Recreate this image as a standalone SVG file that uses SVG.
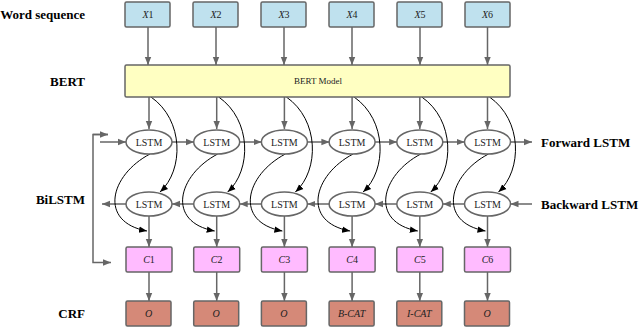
<svg xmlns="http://www.w3.org/2000/svg" width="640" height="328" viewBox="0 0 640 328" font-family="'Liberation Serif', 'Times New Roman', 'DejaVu Serif', serif">
<defs>
<marker id="ga" markerUnits="userSpaceOnUse" markerWidth="8" markerHeight="8" refX="8" refY="4" orient="auto"><path d="M0,0.8 L8,4 L0,7.2 z" fill="#666"/></marker>
<marker id="ba" markerUnits="userSpaceOnUse" markerWidth="8" markerHeight="8" refX="8" refY="4" orient="auto"><path d="M0,0.8 L8,4 L0,7.2 z" fill="#000"/></marker>
<style>
text{font-family:'Liberation Serif','Times New Roman','DejaVu Serif',serif}
.lbl{font-weight:bold;font-size:13px;fill:#000}
.t{font-size:10px;fill:#222;text-anchor:middle}
.it{font-style:italic}
.w{fill:#BFE1EE;stroke:#666;stroke-width:1.5}
.b{fill:#FFFFC2;stroke:#666;stroke-width:1.5}
.c{fill:#FFBBFF;stroke:#666;stroke-width:1.5}
.r{fill:#D58978;stroke:#666;stroke-width:1.5}
.e{fill:#fff;stroke:#666;stroke-width:1.5}
.g{fill:none;stroke:#666;stroke-width:1.5}
.k{fill:none;stroke:#000;stroke-width:1}
</style>
</defs>
<rect width="640" height="328" fill="#fff"/>
<g id="labels">
<text class="lbl" x="85" y="19" text-anchor="end">Word sequence</text>
<text class="lbl" x="85" y="86" text-anchor="end">BERT</text>
<text class="lbl" x="85" y="204" text-anchor="end">BiLSTM</text>
<text class="lbl" x="85" y="318" text-anchor="end">CRF</text>
<text class="lbl" x="541" y="147">Forward LSTM</text>
<text class="lbl" x="541" y="209">Backward LSTM</text>
</g>
<g id="connectors">
<path class="g" marker-end="url(#ga)" d="M148,27 V65"/>
<path class="g" marker-end="url(#ga)" d="M216,27 V65"/>
<path class="g" marker-end="url(#ga)" d="M284,27 V65"/>
<path class="g" marker-end="url(#ga)" d="M352,27 V65"/>
<path class="g" marker-end="url(#ga)" d="M420,27 V65"/>
<path class="g" marker-end="url(#ga)" d="M487.5,27 V65"/>
<path class="g" marker-end="url(#ga)" d="M149,97 V129"/>
<path class="g" marker-end="url(#ga)" d="M216.7,97 V129"/>
<path class="g" marker-end="url(#ga)" d="M284.4,97 V129"/>
<path class="g" marker-end="url(#ga)" d="M352.1,97 V129"/>
<path class="g" marker-end="url(#ga)" d="M419.8,97 V129"/>
<path class="g" marker-end="url(#ga)" d="M487.5,97 V129"/>
<path class="g" marker-end="url(#ga)" d="M100,142 H126"/>
<path class="g" marker-end="url(#ga)" d="M172,142 H194"/>
<path class="g" marker-end="url(#ga)" d="M239.7,142 H261.7"/>
<path class="g" marker-end="url(#ga)" d="M307.4,142 H329.4"/>
<path class="g" marker-end="url(#ga)" d="M375.1,142 H397.1"/>
<path class="g" marker-end="url(#ga)" d="M442.8,142 H464.8"/>
<path class="g" marker-end="url(#ga)" d="M510.5,142 H532"/>
<path class="g" marker-end="url(#ga)" d="M532,204 H510.5"/>
<path class="g" marker-end="url(#ga)" d="M464.5,204 H442.8"/>
<path class="g" marker-end="url(#ga)" d="M396.8,204 H375.1"/>
<path class="g" marker-end="url(#ga)" d="M329.1,204 H307.4"/>
<path class="g" marker-end="url(#ga)" d="M261.4,204 H239.7"/>
<path class="g" marker-end="url(#ga)" d="M193.7,204 H172"/>
<path class="g" marker-end="url(#ga)" d="M126,204 H102"/>
<path class="g" marker-end="url(#ga)" d="M108,134.5 H93 V262.5 H111"/>
<path class="g" marker-end="url(#ga)" d="M93,134.5 H108"/>
<path class="g" marker-end="url(#ga)" d="M149,216 V247"/>
<path class="g" marker-end="url(#ga)" d="M216.7,216 V247"/>
<path class="g" marker-end="url(#ga)" d="M284.4,216 V247"/>
<path class="g" marker-end="url(#ga)" d="M352.1,216 V247"/>
<path class="g" marker-end="url(#ga)" d="M419.8,216 V247"/>
<path class="g" marker-end="url(#ga)" d="M487.5,216 V247"/>
<path class="g" marker-end="url(#ga)" d="M149,272 V301"/>
<path class="g" marker-end="url(#ga)" d="M216.7,272 V301"/>
<path class="g" marker-end="url(#ga)" d="M284.4,272 V301"/>
<path class="g" marker-end="url(#ga)" d="M352.1,272 V301"/>
<path class="g" marker-end="url(#ga)" d="M419.8,272 V301"/>
<path class="g" marker-end="url(#ga)" d="M487.5,272 V301"/>
<path class="k" marker-end="url(#ba)" d="M151,97 C184,120 184,170 160,192"/>
<path class="k" marker-end="url(#ba)" d="M218.7,97 C251.7,120 251.7,170 227.7,192"/>
<path class="k" marker-end="url(#ba)" d="M286.4,97 C319.4,120 319.4,170 295.4,192"/>
<path class="k" marker-end="url(#ba)" d="M354.1,97 C387.1,120 387.1,170 363.1,192"/>
<path class="k" marker-end="url(#ba)" d="M421.8,97 C454.8,120 454.8,170 430.8,192"/>
<path class="k" marker-end="url(#ba)" d="M489.5,97 C522.5,120 522.5,170 498.5,192"/>
<path class="k" marker-end="url(#ba)" d="M150,154 C110,175 98,222 147,231"/>
<path class="k" marker-end="url(#ba)" d="M217.7,154 C177.7,175 165.7,222 214.7,231"/>
<path class="k" marker-end="url(#ba)" d="M285.4,154 C245.4,175 233.4,222 282.4,231"/>
<path class="k" marker-end="url(#ba)" d="M353.1,154 C313.1,175 301.1,222 350.1,231"/>
<path class="k" marker-end="url(#ba)" d="M420.8,154 C380.8,175 368.8,222 417.8,231"/>
<path class="k" marker-end="url(#ba)" d="M488.5,154 C448.5,175 436.5,222 485.5,231"/>
</g>
<g id="words">
<g id="x1"><rect class="w" x="125" y="2" width="45" height="25" rx="1.5"/><text class="t" x="148" y="18"><tspan class="it">X</tspan>1</text></g>
<g id="x2"><rect class="w" x="193" y="2" width="45" height="25" rx="1.5"/><text class="t" x="216" y="18"><tspan class="it">X</tspan>2</text></g>
<g id="x3"><rect class="w" x="261" y="2" width="45" height="25" rx="1.5"/><text class="t" x="284" y="18"><tspan class="it">X</tspan>3</text></g>
<g id="x4"><rect class="w" x="329" y="2" width="45" height="25" rx="1.5"/><text class="t" x="352" y="18"><tspan class="it">X</tspan>4</text></g>
<g id="x5"><rect class="w" x="397" y="2" width="45" height="25" rx="1.5"/><text class="t" x="420" y="18"><tspan class="it">X</tspan>5</text></g>
<g id="x6"><rect class="w" x="465" y="2" width="45" height="25" rx="1.5"/><text class="t" x="487.5" y="18"><tspan class="it">X</tspan>6</text></g>
</g>
<g id="bert"><rect class="b" x="125" y="65" width="385" height="32" rx="1.5"/><text class="t" x="318" y="84" style="font-size:9px">BERT Model</text></g>
<g id="forward">
<g id="f1"><ellipse class="e" cx="149" cy="142" rx="23" ry="12"/><text class="t" x="149" y="145.5">LSTM</text></g>
<g id="f2"><ellipse class="e" cx="216.7" cy="142" rx="23" ry="12"/><text class="t" x="216.7" y="145.5">LSTM</text></g>
<g id="f3"><ellipse class="e" cx="284.4" cy="142" rx="23" ry="12"/><text class="t" x="284.4" y="145.5">LSTM</text></g>
<g id="f4"><ellipse class="e" cx="352.1" cy="142" rx="23" ry="12"/><text class="t" x="352.1" y="145.5">LSTM</text></g>
<g id="f5"><ellipse class="e" cx="419.8" cy="142" rx="23" ry="12"/><text class="t" x="419.8" y="145.5">LSTM</text></g>
<g id="f6"><ellipse class="e" cx="487.5" cy="142" rx="23" ry="12"/><text class="t" x="487.5" y="145.5">LSTM</text></g>
</g>
<g id="backward">
<g id="b1"><ellipse class="e" cx="149" cy="204" rx="23" ry="12"/><text class="t" x="149" y="207.5">LSTM</text></g>
<g id="b2"><ellipse class="e" cx="216.7" cy="204" rx="23" ry="12"/><text class="t" x="216.7" y="207.5">LSTM</text></g>
<g id="b3"><ellipse class="e" cx="284.4" cy="204" rx="23" ry="12"/><text class="t" x="284.4" y="207.5">LSTM</text></g>
<g id="b4"><ellipse class="e" cx="352.1" cy="204" rx="23" ry="12"/><text class="t" x="352.1" y="207.5">LSTM</text></g>
<g id="b5"><ellipse class="e" cx="419.8" cy="204" rx="23" ry="12"/><text class="t" x="419.8" y="207.5">LSTM</text></g>
<g id="b6"><ellipse class="e" cx="487.5" cy="204" rx="23" ry="12"/><text class="t" x="487.5" y="207.5">LSTM</text></g>
</g>
<g id="cs">
<g id="c1"><rect class="c" x="126" y="247" width="46" height="25" rx="1.5"/><text class="t" x="149" y="263"><tspan class="it">C</tspan>1</text></g>
<g id="c2"><rect class="c" x="193.7" y="247" width="46" height="25" rx="1.5"/><text class="t" x="216.7" y="263"><tspan class="it">C</tspan>2</text></g>
<g id="c3"><rect class="c" x="261.4" y="247" width="46" height="25" rx="1.5"/><text class="t" x="284.4" y="263"><tspan class="it">C</tspan>3</text></g>
<g id="c4"><rect class="c" x="329.1" y="247" width="46" height="25" rx="1.5"/><text class="t" x="352.1" y="263"><tspan class="it">C</tspan>4</text></g>
<g id="c5"><rect class="c" x="396.8" y="247" width="46" height="25" rx="1.5"/><text class="t" x="419.8" y="263"><tspan class="it">C</tspan>5</text></g>
<g id="c6"><rect class="c" x="464.5" y="247" width="46" height="25" rx="1.5"/><text class="t" x="487.5" y="263"><tspan class="it">C</tspan>6</text></g>
</g>
<g id="crf">
<g id="o1"><rect class="r" x="126" y="301" width="45" height="25" rx="1.5"/><text class="t it" x="148.5" y="317">O</text></g>
<g id="o2"><rect class="r" x="193.7" y="301" width="45" height="25" rx="1.5"/><text class="t it" x="216.2" y="317">O</text></g>
<g id="o3"><rect class="r" x="261.4" y="301" width="45" height="25" rx="1.5"/><text class="t it" x="283.9" y="317">O</text></g>
<g id="o4"><rect class="r" x="329.1" y="301" width="45" height="25" rx="1.5"/><text class="t it" x="351.6" y="317">B-CAT</text></g>
<g id="o5"><rect class="r" x="396.8" y="301" width="45" height="25" rx="1.5"/><text class="t it" x="419.3" y="317">I-CAT</text></g>
<g id="o6"><rect class="r" x="464.5" y="301" width="45" height="25" rx="1.5"/><text class="t it" x="487" y="317">O</text></g>
</g>
</svg>
